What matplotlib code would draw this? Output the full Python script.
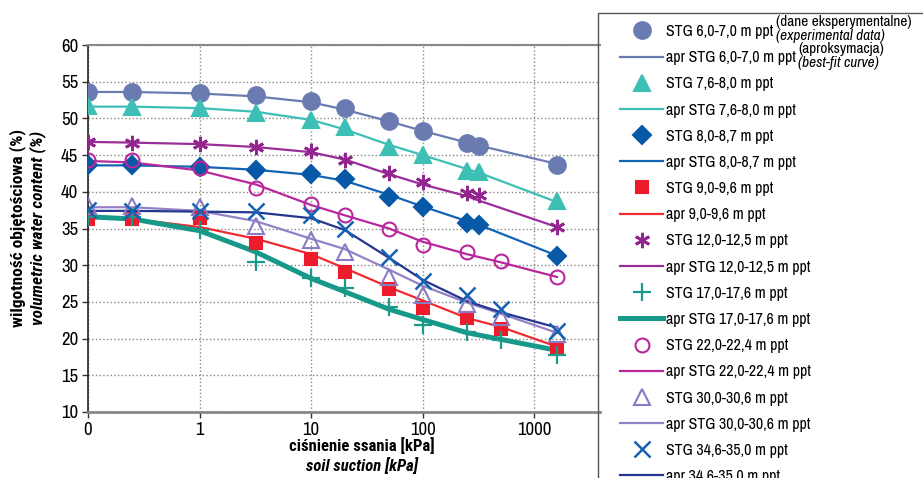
import matplotlib
matplotlib.use("Agg")
import matplotlib.pyplot as plt
from matplotlib.patches import Rectangle

plt.rcParams['font.family'] = ['Archivo Narrow', 'DejaVu Sans']
BOLD = ['Roboto Condensed', 'Asap Condensed', 'DejaVu Sans']

# soil suction [kPa]; 0 kPa is drawn at 0.1 on the log axis
suction_a = [0.1, 0.25, 1, 3.2, 10, 20, 50, 100, 250, 320, 1600]
suction_b = [0.1, 0.25, 1, 3.2, 10, 20, 50, 100, 250, 500, 1600]

# measured volumetric water content (%)
stg_6 = [53.6, 53.6, 53.5, 53.2, 52.4, 51.4, 49.6, 48.3, 46.6, 46.2, 43.7]
stg_7 = [51.7, 51.6, 51.4, 50.8, 49.8, 48.8, 46.1, 45.0, 42.8, 42.7, 38.7]
stg_8 = [43.6, 43.6, 43.4, 43.0, 42.4, 41.7, 39.3, 37.9, 35.8, 35.5, 31.3]
stg_9 = [36.3, 36.3, 36.4, 33.0, 30.8, 29.1, 26.7, 24.2, 22.8, 21.3, 18.6]
stg_12 = [46.8, 46.7, 46.5, 46.1, 45.6, 44.4, 42.5, 41.4, 39.9, 39.5, 35.2]
stg_17 = [36.6, 36.5, 34.8, 30.4, 28.2, 26.9, 24.3, 21.9, 20.9, 19.8, 17.8]
stg_22 = [44.3, 44.3, 43.2, 40.5, 38.3, 36.9, 35.0, 32.8, 31.8, 30.6, 28.4]
stg_30 = [38.0, 38.0, 37.9, 35.3, 33.5, 31.8, 28.4, 26.0, 24.7, 23.0, 20.6]
stg_34 = [37.5, 37.4, 37.4, 37.4, 36.9, 34.9, 31.1, 27.9, 25.9, 24.0, 21.0]

# best-fit curves (read at the same suction values)
apr_6 = [53.6, 53.6, 53.4, 53.0, 52.2, 51.2, 49.6, 48.3, 46.7, 46.3, 43.8]
apr_7 = [51.6, 51.6, 51.4, 50.9, 49.8, 48.5, 46.4, 45.0, 43.1, 42.6, 38.6]
apr_8 = [43.6, 43.6, 43.4, 43.0, 42.3, 41.5, 39.6, 38.0, 36.0, 35.5, 31.3]
apr_9 = [36.5, 36.3, 35.2, 33.6, 31.5, 29.6, 27.0, 25.2, 22.8, 21.6, 18.9]
apr_12 = [46.8, 46.7, 46.5, 46.1, 45.4, 44.4, 42.4, 41.0, 39.4, 38.8, 35.2]
apr_17 = [36.6, 36.3, 34.7, 31.8, 28.2, 26.4, 24.0, 22.6, 20.8, 19.9, 18.4]
apr_22 = [44.2, 44.0, 42.9, 41.0, 38.2, 36.8, 35.0, 33.2, 31.5, 30.4, 28.4]
apr_30 = [37.9, 37.9, 37.4, 36.0, 33.6, 32.2, 29.4, 27.2, 24.9, 23.4, 20.8]
apr_34 = [37.4, 37.4, 37.3, 37.2, 36.4, 34.8, 31.0, 28.0, 25.1, 23.6, 21.5]

x_ticks = [0.1, 1, 10, 100, 1000]
x_tick_labels = ['0', '1', '10', '100', '1000']
y_ticks = [10, 15, 20, 25, 30, 35, 40, 45, 50, 55, 60]

fig = plt.figure(figsize=(9.23, 4.78), dpi=100)
ax = fig.add_axes([88 / 923, 1 - 412 / 478, 512 / 923, 367 / 478])

handles = []

def pair(x, pts, fit, label, fit_label, color, line_color, marker, ms, lw=1.6,
         filled=True, mew=1.5):
    fc = color if filled else 'none'
    p, = ax.plot(x, pts, linestyle='none', marker=marker, markersize=ms,
                 markerfacecolor=fc, markeredgecolor=color, markeredgewidth=mew,
                 label=label, zorder=3)
    l, = ax.plot(x, fit, color=line_color, lw=lw, label=fit_label, zorder=2)
    handles.extend([p, l])

pair(suction_a, stg_6, apr_6, 'STG 6,0-7,0 m ppt', 'apr STG 6,0-7,0 m ppt',
     '#6a7bb1', '#6a7bb1', 'o', 12)
pair(suction_a, stg_7, apr_7, 'STG 7,6-8,0 m ppt', 'apr STG 7,6-8,0 m ppt',
     '#3dbfb6', '#3dbfb6', '^', 12)
pair(suction_a, stg_8, apr_8, 'STG 8,0-8,7 m ppt', 'apr STG 8,0-8,7 m ppt',
     '#0858a8', '#1464b4', 'D', 9)
pair(suction_b, stg_9, apr_9, 'STG 9,0-9,6 m ppt', 'apr 9,0-9,6 m ppt',
     '#ec1c2c', '#f02a30', 's', 8.5)
pair(suction_a, stg_12, apr_12, 'STG 12,0-12,5 m ppt', 'apr STG 12,0-12,5 m ppt',
     '#93268e', '#9a2e98', (6, 2, 0), 11, mew=2)
pair(suction_b, stg_17, apr_17, 'STG 17,0-17,6 m ppt', 'apr STG 17,0-17,6 m ppt',
     '#1b9a8a', '#17998a', '+', 13, lw=3.6, mew=1.6)
pair(suction_b, stg_22, apr_22, 'STG 22,0-22,4 m ppt', 'apr STG 22,0-22,4 m ppt',
     '#b8289b', '#b8289b', 'o', 10, filled=False)
pair(suction_b, stg_30, apr_30, 'STG 30,0-30,6 m ppt', 'apr STG 30,0-30,6 m ppt',
     '#8a7bc2', '#9482c8', '^', 12, filled=False)
pair(suction_b, stg_34, apr_34, 'STG 34,6-35,0 m ppt', 'apr 34,6-35,0 m ppt',
     '#1562b2', '#26368e', 'x', 12, mew=1.8)

ax.set_xscale('log')
ax.set_xlim(0.1, 10 ** 3.59)
ax.set_ylim(10, 60)
ax.set_xticks(x_ticks)
ax.set_xticklabels(x_tick_labels)
ax.xaxis.set_minor_locator(matplotlib.ticker.NullLocator())
ax.set_yticks(y_ticks)
ax.tick_params(axis='both', labelsize=13.5, length=4, width=1, color='#333333')
ax.tick_params(axis='y', pad=3)

ax.grid(True, which='major', axis='both', linestyle=':', color='#888888', lw=1)
ax.set_axisbelow(True)
ax.spines['right'].set_visible(False)
ax.spines['top'].set_color('#888888')
ax.spines['top'].set_linewidth(1.5)
ax.spines['bottom'].set_color('#888888')
ax.spines['bottom'].set_linewidth(2)
ax.spines['left'].set_color('#222222')
ax.spines['left'].set_linewidth(1.2)

# axis titles (Polish + English)
fig.text(18 / 923, 1 - 228 / 478, 'wilgotność objętościowa (%)', rotation=90,
         ha='center', va='center', fontsize=12.5, fontweight='bold', family=BOLD)
fig.text(38 / 923, 1 - 228 / 478, 'volumetric water content (%)', rotation=90,
         ha='center', va='center', fontsize=12.5, fontweight='bold',
         style='italic', family=BOLD)
fig.text(362 / 923, 1 - 446 / 478, 'ciśnienie ssania [kPa]', ha='center',
         va='center', fontsize=12, fontweight='bold', family=BOLD)
fig.text(362 / 923, 1 - 466 / 478, 'soil suction [kPa]', ha='center',
         va='center', fontsize=12, fontweight='bold', style='italic', family=BOLD)

# legend box runs off the figure edge
fig.patches.append(Rectangle((598 / 923, -0.1), 0.5, 1.1 - 13 / 478,
                             transform=fig.transFigure, fill=False,
                             ec='#555555', lw=1, zorder=0))
fig.legend(handles, [h.get_label() for h in handles], loc='upper left',
           bbox_to_anchor=(620 / 923, 1 - 24 / 478), frameon=False,
           fontsize=11.5, handlelength=2.7, handletextpad=0.15,
           labelspacing=0.70, borderpad=0, borderaxespad=0)

fig.text(776 / 923, 1 - 22 / 478, '(dane eksperymentalne)', ha='left',
         va='center', fontsize=11)
fig.text(776 / 923, 1 - 36 / 478, '(experimental data)', ha='left',
         va='center', fontsize=11, style='italic')
fig.text(798 / 923, 1 - 49 / 478, '(aproksymacja)', ha='left',
         va='center', fontsize=11)
fig.text(798 / 923, 1 - 63 / 478, '(best-fit curve)', ha='left',
         va='center', fontsize=11, style='italic')

fig.savefig('out.png', dpi=100, facecolor='white')
